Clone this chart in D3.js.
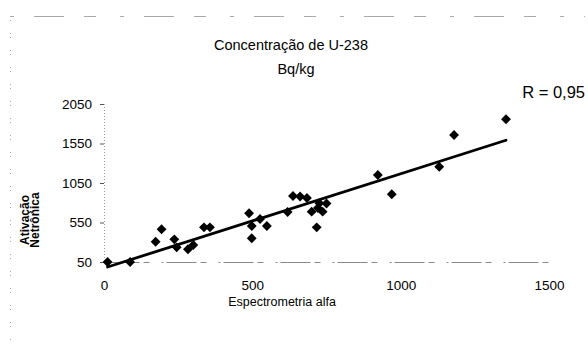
<!DOCTYPE html>
<html>
<head>
<meta charset="utf-8">
<script src="https://cdn.jsdelivr.net/npm/d3@7"></script>
<style>
  html, body { margin: 0; padding: 0; background: #fff; }
  svg { display: block; font-family: "Liberation Sans", Arial, sans-serif; }
</style>
</head>
<body>
<svg id="chart" width="588" height="349"></svg>
<script>
// U-238 concentration (Bq/kg): alpha spectrometry vs neutron activation
const alfa = [12, 88, 174, 194, 237, 245, 283, 301, 337, 357, 489, 498, 498, 526, 549,
              619, 637, 661, 684, 700, 717, 721, 726, 737, 750, 923, 970, 1130, 1180, 1355];
const ativacao = [50, 50, 307, 464, 337, 236, 212, 265, 489, 489, 667, 506, 350, 594, 506,
                  683, 886, 879, 860, 687, 489, 734, 793, 687, 790, 1151, 907, 1256, 1658, 1857];
const xTicks = [0, 500, 1000, 1500];
const yTicks = [50, 550, 1050, 1550, 2050];

const svg = d3.select("#chart");

const x = d3.scaleLinear().domain([0, 1500]).range([104, 549]);
const y = d3.scaleLinear().domain([50, 2050]).range([262, 104]);

// faint chart border (top and left)
svg.append("line").attr("x1", 10).attr("x2", 585).attr("y1", 16.5).attr("y2", 16.5)
  .attr("stroke", "#aaa").attr("stroke-width", 1).attr("stroke-dasharray", "4,20,30,20,12,24");
svg.append("line").attr("x1", 10.5).attr("x2", 10.5).attr("y1", 16).attr("y2", 340)
  .attr("stroke", "#aaa").attr("stroke-width", 1).attr("stroke-dasharray", "1,3,1,12");

// titles
svg.append("text").attr("x", 291).attr("y", 50).attr("text-anchor", "middle")
  .attr("font-size", 14.5).text("Concentração de U-238");
svg.append("text").attr("x", 296).attr("y", 74).attr("text-anchor", "middle")
  .attr("font-size", 14.5).text("Bq/kg");
svg.append("text").attr("x", 585).attr("y", 98).attr("text-anchor", "end")
  .attr("font-size", 16.5).text("R = 0,95");

// y axis
const yAxis = svg.append("g").attr("transform", `translate(${x(0)},0)`)
  .call(d3.axisLeft(y).tickValues(yTicks).tickSize(4).tickPadding(8).tickFormat(d3.format("d")));
yAxis.select(".domain").attr("stroke", "#999").attr("stroke-dasharray", "1,2");
yAxis.selectAll(".tick line").attr("stroke", "#555");
yAxis.selectAll("text").attr("font-size", 13.5).attr("font-family", "Liberation Sans, Arial, sans-serif").attr("fill", "#000");

// x axis
const xAxis = svg.append("g").attr("transform", `translate(0,${y(50)})`)
  .call(d3.axisBottom(x).tickValues(xTicks).tickSize(0).tickPadding(18).tickFormat(d3.format("d")));
xAxis.select(".domain").attr("stroke", "#888").attr("stroke-dasharray", "2,3,30,4,6,12");
xAxis.selectAll("text").attr("font-size", 13.5).attr("font-family", "Liberation Sans, Arial, sans-serif").attr("fill", "#000");

// axis titles
svg.append("text").attr("x", 282).attr("y", 306).attr("text-anchor", "middle")
  .attr("font-size", 12.5).text("Espectrometria alfa");
const yt = svg.append("text").attr("transform", "translate(34,220) rotate(-90)")
  .attr("text-anchor", "middle").attr("font-size", 12).attr("font-weight", "bold")
  .attr("font-family", "Liberation Sans Narrow, Liberation Sans, Arial, sans-serif");
yt.append("tspan").attr("x", 0).attr("dy", -5).text("Ativação");
yt.append("tspan").attr("x", 0).attr("dy", 10).text("Netrônica");

// least-squares trend line over the data range
const n = alfa.length;
const mx = d3.mean(alfa), my = d3.mean(ativacao);
let sxy = 0, sxx = 0;
for (let i = 0; i < n; i++) { sxy += (alfa[i] - mx) * (ativacao[i] - my); sxx += (alfa[i] - mx) ** 2; }
const slope = sxy / sxx, icpt = my - slope * mx;
const x0 = d3.min(alfa), x1 = d3.max(alfa);
svg.append("line")
  .attr("x1", x(x0)).attr("y1", y(icpt + slope * x0))
  .attr("x2", x(x1)).attr("y2", y(icpt + slope * x1))
  .attr("stroke", "#000").attr("stroke-width", 2.8).attr("stroke-linecap", "round");

// diamond markers
const diamond = d3.symbol().type(d3.symbolDiamond2).size(62);
svg.append("g").selectAll("path").data(alfa).join("path")
  .attr("transform", (d, i) => `translate(${x(d)},${y(ativacao[i])})`)
  .attr("d", diamond)
  .attr("fill", "#000");
</script>
</body>
</html>
